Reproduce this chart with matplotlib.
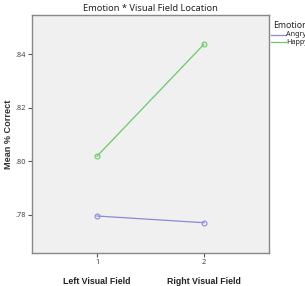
import matplotlib
matplotlib.use("Agg")
import matplotlib.pyplot as plt
from matplotlib.ticker import FuncFormatter
import matplotlib.transforms as mtransforms

plt.rcParams["font.family"] = ["Noto Sans", "DejaVu Sans"]
BOLD_FAMILY = ["Liberation Sans", "DejaVu Sans"]

positions = [1, 2]
categories = ["Left Visual Field", "Right Visual Field"]
angry = [0.7796, 0.7771]
happy = [0.8019, 0.8437]
series_names = ["Angry", "Happy"]
yticks = [0.78, 0.80, 0.82, 0.84]

fig = plt.figure(figsize=(3.05, 2.86), dpi=100)
ax = fig.add_axes([0.1049, 0.1154, 0.777, 0.8322])
ax.set_facecolor("#f0f0f0")

c_angry = "#8a8ad6"
c_happy = "#6cc86c"
ax.plot(positions, angry, color=c_angry, lw=0.9, marker="o", ms=3.5,
        mfc="none", mec=c_angry, mew=0.8, label=series_names[0])
ax.plot(positions, happy, color=c_happy, lw=0.9, marker="o", ms=3.5,
        mfc="none", mec=c_happy, mew=0.8, label=series_names[1])

ax.set_xlim(0.3925, 2.607)
ax.set_ylim(0.7658, 0.8546)
ax.set_xticks(positions)
ax.set_xticklabels([str(p) for p in positions])
ax.set_yticks(yticks)
ax.yaxis.set_major_formatter(FuncFormatter(lambda v, p: ("%.2f" % v).lstrip("0")))
ax.tick_params(axis="both", direction="out", length=3, width=0.8, color="#555555",
               labelsize=5.3, labelcolor="#444444", pad=1.5)

for s in ax.spines.values():
    s.set_color("#888888")
    s.set_linewidth(1.0)

ax.set_title("Emotion * Visual Field Location", fontsize=6.7, color="#222222", pad=3)
fig.text(9 / 305, 1 - 134 / 286, "Mean % Correct", rotation=90, fontsize=6.6,
         fontweight="bold", family=BOLD_FAMILY, color="#333333", ha="center", va="center")

trans = mtransforms.blended_transform_factory(ax.transData, fig.transFigure)
for p, lab in zip(positions, categories):
    ax.text(p, 1 - 281 / 286, lab, transform=trans, ha="center", va="center",
            fontsize=6.3, fontweight="bold", family=BOLD_FAMILY, color="#222222")

fig.text(273 / 305, 1 - 25 / 286, "Emotion", fontsize=6.3, color="#222222",
         ha="left", va="center")
for i, (name, col) in enumerate(zip(series_names, [c_angry, c_happy])):
    y = 1 - (35 + 7 * i) / 286
    fig.add_artist(plt.Line2D([271 / 305, 286 / 305], [y, y], color=col, lw=0.9,
                              transform=fig.transFigure))
    fig.text(286.5 / 305, y, name, fontsize=5.2, color="#222222", ha="left", va="center")

fig.savefig("out.png", dpi=100)
